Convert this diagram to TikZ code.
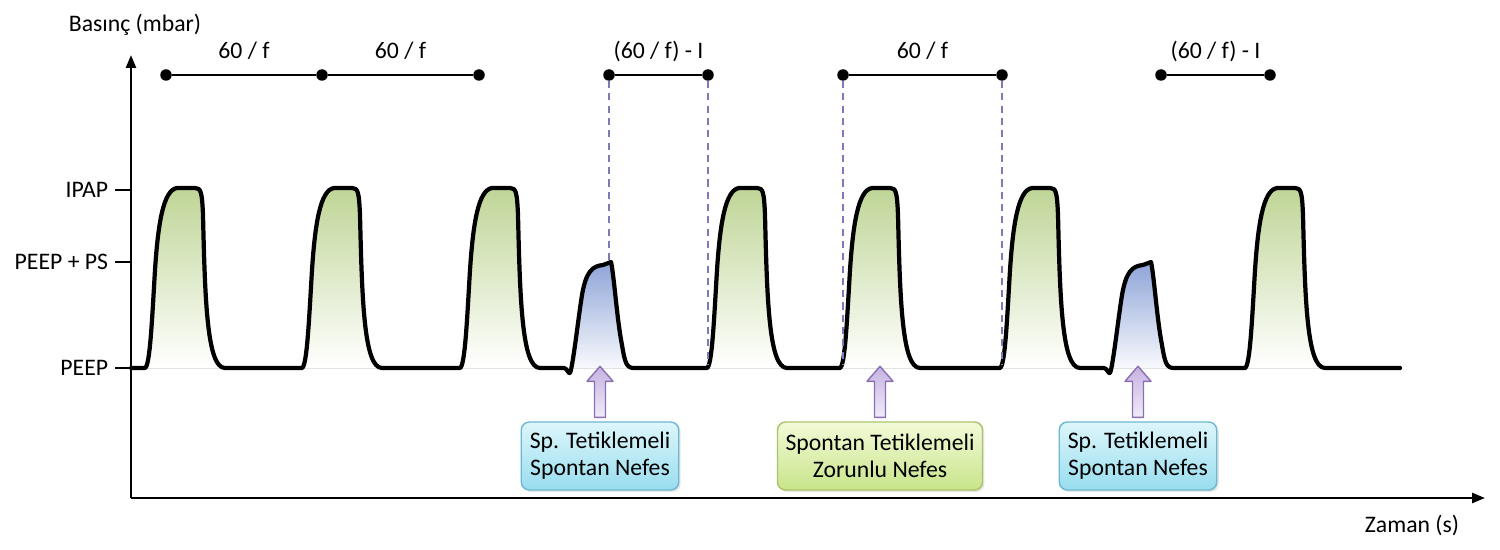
\documentclass[tikz,border=0pt]{standalone}
\usepackage{fontspec}
\setmainfont{Carlito}
\usetikzlibrary{arrows.meta,calc,shadows}

\definecolor{pulsegreen}{HTML}{BFD596}
\definecolor{pulseblue}{HTML}{8EA4D8}
\definecolor{guidecolor}{HTML}{7B7BB8}
\definecolor{spcyantop}{HTML}{DDF6FB}
\definecolor{spcyanbot}{HTML}{98DDEF}
\definecolor{spcyanline}{HTML}{6CB8CF}
\definecolor{zgreentop}{HTML}{F3FAD8}
\definecolor{zgreenbot}{HTML}{C8E58A}
\definecolor{zgreenline}{HTML}{A8C46A}
\definecolor{trigtop}{HTML}{C6B2E2}
\definecolor{trigbot}{HTML}{F4EFFA}
\definecolor{trigline}{HTML}{8A70B0}

% one mandatory breath (green) and one spontaneous breath (blue), start x given
\newcommand{\gpulse}[1]{-- (#1,368) .. controls ({#1+5},366) and ({#1+7},320) .. ({#1+10},270) .. controls ({#1+13},225) and ({#1+18},190) .. ({#1+32},188) -- ({#1+50},188) .. controls ({#1+56},188) and ({#1+57},192) .. ({#1+58},215) .. controls ({#1+60},300) and ({#1+62},368) .. ({#1+80},368)}
\newcommand{\bpulse}[1]{-- ({#1-6},368) .. controls ({#1-3},368) and ({#1-1},375) .. (#1,373) .. controls ({#1+3},366) and ({#1+8},320) .. ({#1+12},295) .. controls ({#1+16},272) and ({#1+22},266) .. ({#1+33},265) -- ({#1+41},262) .. controls ({#1+44},275) and ({#1+47},320) .. ({#1+52},345) .. controls ({#1+55},364) and ({#1+57},368) .. ({#1+64},368)}

\begin{document}
\begin{tikzpicture}[
    x=0.02cm, y=-0.02cm,
    font=\fontsize{13.5}{15.5}\selectfont,
    axis/.style={line width=1.4pt, -{Triangle[length=0.26cm,width=0.2cm]}},
    tickmark/.style={line width=1.2pt},
    wave/.style={line width=2.4pt, line join=round, line cap=round},
    gfill/.style={top color=pulsegreen, bottom color=white},
    bfill/.style={top color=pulseblue, bottom color=white},
    dot/.style={circle, fill, inner sep=0pt, minimum size=0.23cm},
    span/.style={line width=1pt},
    lbl/.style={text height=0.75em, text depth=0.25em},
    guide/.style={guidecolor, line width=0.6pt, dash pattern=on 4pt off 3pt},
    spbox/.style={draw=spcyanline, line width=0.8pt, rounded corners=0.16cm, top color=spcyantop, bottom color=spcyanbot, minimum height=1.36cm, minimum width=3.15cm, align=center, drop shadow={shadow xshift=0.04cm, shadow yshift=-0.04cm, opacity=0.2}},
    zbox/.style={spbox, draw=zgreenline, top color=zgreentop, bottom color=zgreenbot, minimum width=4.1cm},
    trig/.style={draw=trigline, line width=0.8pt, line join=round, top color=trigtop, bottom color=trigbot}
]
    \useasboundingbox (0,0) rectangle (1500,550);

    % axes
    \coordinate (o) at (131,498);
    \draw[axis] (o) -- (131,55);
    \draw[axis] (o) -- (1485,498);
    \node (ylabel) at (135,25) {Basınç (mbar)};
    \node (xlabel) at (1412,525) {Zaman (s)};

    % pressure levels
    \draw[tickmark] (115,190) -- (131,190) node[pos=0, left] (ipap) {IPAP};
    \draw[tickmark] (115,262) -- (131,262) node[pos=0, left] (ps) {PEEP + PS};
    \draw[tickmark] (115,368) -- (131,368) node[pos=0, left] (peep) {PEEP};

    % breath fills
    \foreach \s in {145,302,460,707,840,1000,1245}
        \fill[gfill] (\s,368) \gpulse{\s} -- cycle;
    \foreach \s in {570,1110}
        \fill[bfill] ({\s-6},368) \bpulse{\s} -- cycle;

    % pressure curve
    \draw[wave] (131,368) \gpulse{145} \gpulse{302} \gpulse{460} \bpulse{570}
        \gpulse{707} \gpulse{840} \gpulse{1000} \bpulse{1110} \gpulse{1245} -- (1400,368);

    % time intervals
    \node[dot] (d1) at (166,75) {};
    \node[dot] (d2) at (322,75) {};
    \node[dot] (d3) at (479,75) {};
    \node[dot] (d4) at (609,75) {};
    \node[dot] (d5) at (708,75) {};
    \node[dot] (d6) at (843,75) {};
    \node[dot] (d7) at (1002,75) {};
    \node[dot] (d8) at (1161,75) {};
    \node[dot] (d9) at (1270,75) {};
    \draw[span] (d1) -- (d2) node[midway, above=0.1cm, lbl] {60 / f};
    \draw[span] (d2) -- (d3) node[midway, above=0.1cm, lbl] {60 / f};
    \draw[span] (d4) -- (d5) node[midway, above=0.1cm, lbl] {(60 / f) - I};
    \draw[span] (d6) -- (d7) node[midway, above=0.1cm, lbl] {60 / f};
    \draw[span] (d8) -- (d9) node[midway, above=0.1cm, lbl] {(60 / f) - I};

    % guides down to the curve
    \coordinate (peak1) at (611,263);
    \coordinate (base) at (0,365);
    \draw[guide] (d4) -- (d4 |- peak1);
    \draw[guide] (d5) -- (d5 |- base);
    \draw[guide] (d6) -- (d6 |- base);
    \draw[guide] (d7) -- (d7 |- base);

    % breath types
    \node[spbox] (sp1) at (600,456) {Sp. Tetiklemeli\\Spontan Nefes};
    \node[zbox] (zn) at (880,456) {Spontan Tetiklemeli\\Zorunlu Nefes};
    \node[spbox] (sp2) at (1138,456) {Sp. Tetiklemeli\\Spontan Nefes};

    % trigger arrows
    \foreach \b in {sp1,zn,sp2}
        \draw[trig] (\b.north) ++(-5.5,-4) -- ++(0,-36) -- ++(-7.5,0) -- ++(13,-15)
            -- ++(13,15) -- ++(-7.5,0) -- ++(0,36) -- cycle;
\end{tikzpicture}
\end{document}
